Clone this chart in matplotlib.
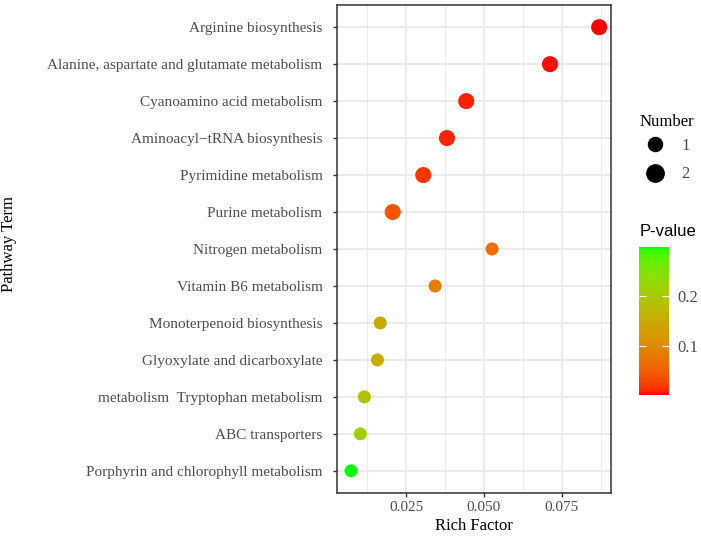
import matplotlib
matplotlib.use("Agg")
import matplotlib.pyplot as plt
import numpy as np
from matplotlib.colors import LinearSegmentedColormap, Normalize
from matplotlib.lines import Line2D

# pathways, top to bottom
pathways = [
    "Arginine biosynthesis",
    "Alanine, aspartate and glutamate metabolism",
    "Cyanoamino acid metabolism",
    "Aminoacyl\u2212tRNA biosynthesis",
    "Pyrimidine metabolism",
    "Purine metabolism",
    "Nitrogen metabolism",
    "Vitamin B6 metabolism",
    "Monoterpenoid biosynthesis",
    "Glyoxylate and dicarboxylate",
    "metabolism  Tryptophan metabolism",
    "ABC transporters",
    "Porphyrin and chlorophyll metabolism",
]
rich_factor = [0.0870, 0.0712, 0.0443, 0.0381, 0.0305, 0.0207, 0.0526,
               0.0343, 0.0167, 0.0158, 0.0116, 0.0103, 0.0073]
number = [2, 2, 2, 2, 2, 2, 1, 1, 1, 1, 1, 1, 1]
pvalue = [0.001, 0.004, 0.008, 0.010, 0.018, 0.040, 0.065,
          0.085, 0.150, 0.155, 0.190, 0.210, 0.299]


def lab_to_rgb(L, a, b):
    fy = (L + 16) / 116
    fx = fy + a / 500
    fz = fy - b / 200
    def finv(t):
        return np.where(t > 6 / 29, t ** 3, 3 * (6 / 29) ** 2 * (t - 4 / 29))
    X, Y, Z = 0.95047 * finv(fx), finv(fy), 1.08883 * finv(fz)
    r = 3.2406 * X - 1.5372 * Y - 0.4986 * Z
    g = -0.9689 * X + 1.8758 * Y + 0.0415 * Z
    bb = 0.0557 * X - 0.2040 * Y + 1.0570 * Z
    rgb = np.array([r, g, bb])
    rgb = np.where(rgb > 0.0031308, 1.055 * np.abs(rgb) ** (1 / 2.4) - 0.055, 12.92 * rgb)
    return np.clip(rgb, 0, 1)


# red -> green gradient interpolated in Lab, like ggplot
lab_lo = np.array([53.24, 80.09, 67.20])
lab_hi = np.array([87.73, -86.18, 83.18])
stops = [lab_to_rgb(*(lab_lo + t * (lab_hi - lab_lo))) for t in np.linspace(0, 1, 64)]
cmap = LinearSegmentedColormap.from_list("rg", stops)
norm = Normalize(vmin=min(pvalue), vmax=max(pvalue))

serif = ["Liberation Serif", "DejaVu Serif"]
sans = ["Liberation Sans", "DejaVu Sans"]


def size_of(n):
    return 88 + (n - 1) * 46


fig = plt.figure(figsize=(7.01, 5.40), dpi=100)
ax = fig.add_axes([337 / 701, 1 - 493 / 540, 274 / 701, 488 / 540])

ypos = np.arange(len(pathways))[::-1]
ax.scatter(rich_factor, ypos, s=[size_of(n) for n in number],
           c=pvalue, cmap=cmap, norm=norm, linewidths=0, zorder=3)

ax.set_xlim(0.0028, 0.0908)
ax.set_ylim(-0.6, len(pathways) - 0.4)
ax.set_yticks(ypos)
ax.set_yticklabels(pathways, family=serif, fontsize=11, color="#4d4d4d")
ax.set_xticks([0.025, 0.050, 0.075])
ax.set_xticklabels(["0.025", "0.050", "0.075"], family=serif, fontsize=11, color="#4d4d4d")
ax.set_xticks([0.0125, 0.0375, 0.0625, 0.0875], minor=True)
ax.grid(True, which="major", color="#ebebeb", linewidth=1.4, zorder=0)
ax.grid(True, which="minor", axis="x", color="#ebebeb", linewidth=0.7, zorder=0)
ax.set_axisbelow(True)
ax.tick_params(which="major", length=3, width=1, color="#333333")
ax.tick_params(axis="y", which="major", pad=7.5)
ax.tick_params(axis="x", which="major", pad=3)
ax.tick_params(which="minor", length=0)
for sp in ax.spines.values():
    sp.set_color("#333333")
    sp.set_linewidth(1.1)
ax.set_xlabel("Rich Factor", family=serif, fontsize=12, labelpad=3)
fig.text(9 / 701, 1 - 244 / 540, "Pathway Term", family=serif, fontsize=12,
         rotation=90, ha="center", va="center")

# size legend
fig.text(640 / 701, 1 - 122 / 540, "Number", family=serif, fontsize=12, va="center")
handles = [Line2D([], [], marker="o", linestyle="", color="black",
                  markersize=np.sqrt(size_of(n)) * 1.08) for n in [1, 2]]
leg = fig.legend(handles, ["1", "2"], loc="upper left",
                 bbox_to_anchor=(638 / 701, 1 - 138 / 540), frameon=False,
                 borderpad=0, borderaxespad=0, handlelength=2.0,
                 handletextpad=0.6, labelspacing=0.75,
                 prop={"family": serif, "size": 12})
for t in leg.get_texts():
    t.set_color("#4d4d4d")

# colour bar
cax = fig.add_axes([639 / 701, 1 - 395 / 540, 30 / 701, 148 / 540])
sm = plt.cm.ScalarMappable(norm=norm, cmap=cmap)
cb = fig.colorbar(sm, cax=cax)
cb.outline.set_visible(False)
cb.set_ticks([0.1, 0.2])
cb.set_ticklabels(["0.1", "0.2"])
cax.tick_params(direction="in", length=5, width=0.8, color="white",
                left=True, right=True, labelsize=12, labelcolor="#4d4d4d", pad=6)
for t in cax.get_yticklabels():
    t.set_fontfamily(serif)
fig.text(640 / 701, 1 - 232 / 540, "P-value", family=sans, fontsize=12, va="center")

fig.savefig("out.png", dpi=100)
